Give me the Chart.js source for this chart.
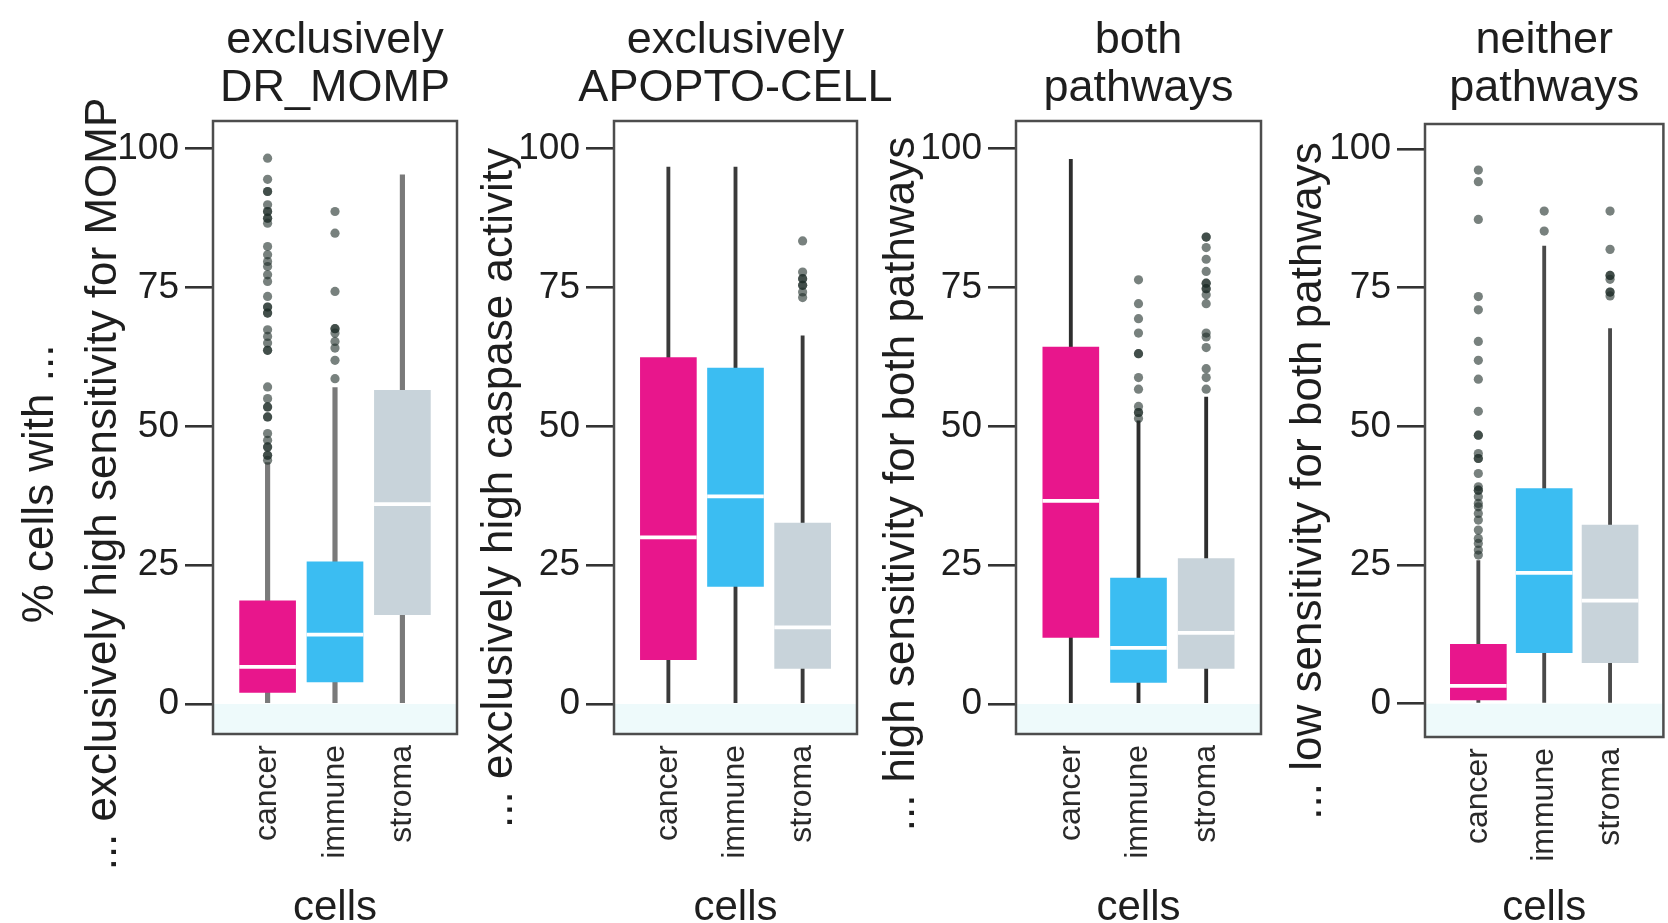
<!DOCTYPE html>
<html>
<head>
<meta charset="utf-8">
<script src="https://cdn.jsdelivr.net/npm/chart.js@4.4.1/dist/chart.umd.min.js"></script>
<style>
  body { margin: 0; background: #fff; }
  #wrap { position: relative; width: 1668px; height: 923px; overflow: hidden; background: #fff; }
  #wrap canvas { position: absolute; left: 0; top: 0; }
</style>
</head>
<body>
<div id="wrap">
  <canvas id="panel-0" width="1668" height="923"></canvas>
  <canvas id="panel-1" width="1668" height="923"></canvas>
  <canvas id="panel-2" width="1668" height="923"></canvas>
  <canvas id="panel-3" width="1668" height="923"></canvas>
</div>
<script>
(function(Chart){

    var categories = ['cancer', 'immune', 'stroma'];
    var panelTitles = [
        ['exclusively', 'DR_MOMP'],
        ['exclusively', 'APOPTO-CELL'],
        ['both', 'pathways'],
        ['neither', 'pathways']
    ];
    var yLabels = [
        ['% cells with ...', '... exclusively high sensitivity for MOMP'],
        ['... exclusively high caspase activity'],
        ['... high sensitivity for both pathways'],
        ['... low sensitivity for both pathways']
    ];
    var xLabel = 'cells';
    var yTicks = [0, 25, 50, 75, 100];

    // box statistics, one row per panel, columns in category order
    var q1 = [[2.1, 4.0, 16.1], [8.0, 21.2, 6.4], [12.0, 3.9, 6.4], [0.7, 9.2, 7.4]];
    var medians = [[6.7, 12.5, 36.0], [30.0, 37.4, 13.8], [36.6, 10.1, 12.8], [3.2, 23.6, 18.6]];
    var q3 = [[18.6, 25.6, 56.5], [62.4, 60.5, 32.6], [64.3, 22.7, 26.2], [10.7, 38.8, 32.2]];
    var whiskerLow = [[0, 0, 0], [0, 0, 0], [0, 0, 0], [0, 0, 0]];
    var whiskerHigh = [[43.5, 57.0, 95.3], [96.7, 96.7, 66.3], [98.1, 51.0, 55.3], [25.8, 82.5, 67.6]];

    var outliersMomp = [
        [98.3, 94.5, 92.3, 92.3, 89.9, 88.7, 88.7, 87.5, 87.5, 86.6, 82.4, 80.9, 79.7, 78.8, 77.3, 76.1,
         73.4, 71.5, 71.5, 70.4, 70.4, 67.4, 66.2, 65.0, 63.7, 63.7, 57.1, 55.0, 53.5, 53.5, 51.7, 51.7,
         48.7, 47.5, 46.3, 46.3, 44.8, 44.8, 43.9],
        [88.7, 84.8, 74.3, 67.6, 67.6, 66.8, 65.3, 64.1, 61.9, 58.6],
        []
    ];
    var outliersApopto = [
        [],
        [],
        [83.4, 77.8, 76.6, 76.6, 75.4, 75.4, 74.2, 73.2]
    ];
    var outliersBoth = [
        [],
        [76.4, 72.1, 69.4, 66.8, 63.1, 63.1, 58.8, 56.7, 53.6, 52.5, 52.5, 51.4],
        [84.1, 84.1, 82.2, 80.1, 77.9, 75.8, 75.8, 74.8, 74.8, 73.7, 72.1, 66.8, 66.1, 64.2, 60.4, 58.8, 56.7]
    ];
    var outliersNeither = [
        [96.2, 94.1, 87.3, 73.4, 71.0, 65.3, 61.9, 58.5, 52.7, 48.4, 48.4, 45.1, 44.2, 44.2, 41.5, 39.1,
         38.5, 38.5, 37.3, 36.1, 35.5, 34.3, 33.1, 31.3, 29.8, 28.9, 27.7, 26.8],
        [88.8, 85.2],
        [88.8, 81.9, 77.2, 77.2, 76.5, 74.2, 74.2, 73.5]
    ];
    var outliers = [outliersMomp, outliersApopto, outliersBoth, outliersNeither];

    var boxColors = ['#e8168c', '#3bbdf2', '#c8d3da'];
    var whiskerColors = ['#7a7a7a', '#3a3a3a', '#2e2e2e', '#4a4a4a'];
    var whiskerWidths = [4.5, 3.2, 3.2, 3.2];

    // where each plot frame sits on the page
    var frames = [
        {left: 213, right: 457, top: 121, bottom: 734, yMin: -5.4, yMax: 105},
        {left: 614, right: 857, top: 121, bottom: 734, yMin: -5.4, yMax: 105},
        {left: 1016, right: 1261, top: 121, bottom: 734, yMin: -5.4, yMax: 105},
        {left: 1425, right: 1666, top: 124, bottom: 737, yMin: -6.0, yMax: 104.5}
    ];
    var yLabelPos = [
        {x: [53, 116], y: 484},
        {x: [512], y: 488},
        {x: [914], y: 484},
        {x: [1321], y: 481}
    ];
    var titleBaselines = [53, 101];
    var axisWidth = 100;

    Chart.defaults.font.family = '"Liberation Sans", Arial, Helvetica, sans-serif';
    Chart.defaults.color = '#1e1e1e';

    var panelDecor = {
        id: 'panelDecor',
        beforeDatasetsDraw: function(chart) {
            var ctx = chart.ctx, area = chart.chartArea;
            var zero = chart.scales.y.getPixelForValue(0);
            ctx.save();
            ctx.fillStyle = '#eefafb';
            ctx.fillRect(area.left, zero, area.right - area.left, area.bottom - zero);
            ctx.restore();
        },
        afterDatasetsDraw: function(chart, args, opts) {
            var ctx = chart.ctx, area = chart.chartArea;
            ctx.save();
            ctx.strokeStyle = '#4d4d4d';
            ctx.lineWidth = 2.5;
            ctx.strokeRect(area.left, area.top, area.right - area.left, area.bottom - area.top);

            ctx.fillStyle = '#1e1e1e';
            ctx.font = '45px "Liberation Sans", Arial, sans-serif';
            ctx.textAlign = 'center';
            ctx.textBaseline = 'alphabetic';
            var cx = (area.left + area.right) / 2;
            opts.title.forEach(function(line, i) {
                ctx.fillText(line, cx, titleBaselines[i]);
            });

            ctx.font = '44px "Liberation Sans", Arial, sans-serif';
            opts.yLabel.forEach(function(line, i) {
                ctx.save();
                ctx.translate(opts.yPos.x[i], opts.yPos.y);
                ctx.rotate(-Math.PI / 2);
                ctx.fillText(line, 0, 0);
                ctx.restore();
            });
            ctx.restore();
        }
    };

    function makePanel(p) {

        var f = frames[p];
        var points = [];
        outliers[p].forEach(function(list, i) {
            list.forEach(function(v) {
                points.push({x: i + 1, y: v});
            });
        });

        var ctx = document.getElementById('panel-' + p).getContext('2d');

        return new Chart(ctx, {
            type: 'bar',
            data: {
                datasets: [{
                    type: 'scatter',
                    label: 'outliers',
                    order: 0,
                    data: points,
                    pointRadius: 4.6,
                    pointBorderWidth: 0,
                    pointBackgroundColor: 'rgba(30, 45, 40, 0.6)'
                }, {
                    label: 'median',
                    order: 1,
                    grouped: false,
                    barThickness: 56,
                    backgroundColor: '#ffffff',
                    data: medians[p].map(function(m, i) {
                        return {x: i + 1, y: [m - 0.28, m + 0.28]};
                    })
                }, {
                    label: 'box',
                    order: 2,
                    grouped: false,
                    barThickness: 56,
                    backgroundColor: boxColors,
                    data: q1[p].map(function(v, i) {
                        return {x: i + 1, y: [v, q3[p][i]]};
                    })
                }, {
                    label: 'whisker',
                    order: 3,
                    grouped: false,
                    barThickness: whiskerWidths[p],
                    backgroundColor: whiskerColors[p],
                    data: whiskerLow[p].map(function(v, i) {
                        return {x: i + 1, y: [v, whiskerHigh[p][i]]};
                    })
                }]
            },
            options: {
                responsive: false,
                animation: false,
                events: [],
                layout: {
                    padding: {
                        left: f.left - axisWidth,
                        right: 1668 - f.right,
                        top: f.top,
                        bottom: 0
                    }
                },
                plugins: {
                    legend: {display: false},
                    tooltip: {enabled: false},
                    panelDecor: {title: panelTitles[p], yLabel: yLabels[p], yPos: yLabelPos[p]}
                },
                scales: {
                    x: {
                        type: 'linear',
                        offset: false,
                        min: 0.19,
                        max: 3.81,
                        grid: {display: false, drawTicks: false},
                        border: {display: false},
                        afterBuildTicks: function(scale) {
                            scale.ticks = categories.map(function(c, i) { return {value: i + 1}; });
                        },
                        afterFit: function(scale) {
                            scale.height = 923 - f.bottom;
                        },
                        ticks: {
                            autoSkip: false,
                            minRotation: 90,
                            maxRotation: 90,
                            padding: 11,
                            color: '#2a2a2a',
                            font: {size: 32},
                            callback: function(v) { return categories[v - 1]; }
                        },
                        title: {
                            display: true,
                            text: xLabel,
                            color: '#1e1e1e',
                            padding: {top: 0, bottom: -6},
                            font: {size: 42, lineHeight: 1}
                        }
                    },
                    y: {
                        min: f.yMin,
                        max: f.yMax,
                        grid: {
                            drawOnChartArea: false,
                            drawTicks: true,
                            tickLength: 28,
                            color: '#333333',
                            lineWidth: 2.6
                        },
                        border: {display: false},
                        afterBuildTicks: function(scale) {
                            scale.ticks = yTicks.map(function(v) { return {value: v}; });
                        },
                        afterFit: function(scale) {
                            scale.width = axisWidth;
                        },
                        ticks: {
                            padding: 6,
                            color: '#1e1e1e',
                            font: {size: 37}
                        }
                    }
                }
            },
            plugins: [panelDecor]
        });
    }

    for (var p = 0; p < 4; p++) {
        makePanel(p);
    }

})(Chart);
</script>
</body>
</html>
